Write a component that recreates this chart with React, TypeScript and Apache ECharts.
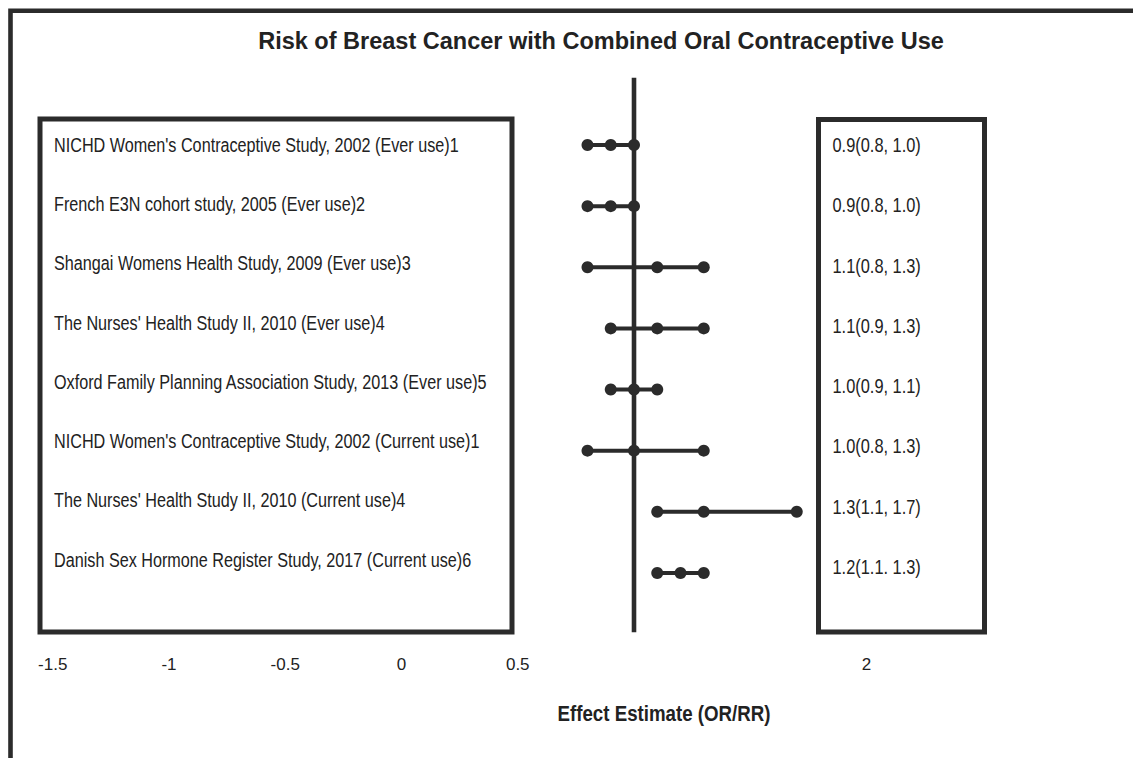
import React, { useEffect, useRef } from "react";
import * as echarts from "echarts";

const titleText = "Risk of Breast Cancer with Combined Oral Contraceptive Use";
const axisTitle = "Effect Estimate (OR/RR)";
const studies = [
  "NICHD Women's Contraceptive Study, 2002 (Ever use)1",
  "French E3N cohort study, 2005 (Ever use)2",
  "Shangai Womens Health Study, 2009 (Ever use)3",
  "The Nurses' Health Study II, 2010 (Ever use)4",
  "Oxford Family Planning Association Study, 2013 (Ever use)5",
  "NICHD Women's Contraceptive Study, 2002 (Current use)1",
  "The Nurses' Health Study II, 2010 (Current use)4",
  "Danish Sex Hormone Register Study, 2017 (Current use)6",
];
const estimates = [0.9, 0.9, 1.1, 1.1, 1.0, 1.0, 1.3, 1.2];
const lowerCI = [0.8, 0.8, 0.8, 0.9, 0.9, 0.8, 1.1, 1.1];
const upperCI = [1.0, 1.0, 1.3, 1.3, 1.1, 1.3, 1.7, 1.3];
const effectLabels = [
  "0.9(0.8, 1.0)",
  "0.9(0.8, 1.0)",
  "1.1(0.8, 1.3)",
  "1.1(0.9, 1.3)",
  "1.0(0.9, 1.1)",
  "1.0(0.8, 1.3)",
  "1.3(1.1, 1.7)",
  "1.2(1.1. 1.3)",
];
const shownTicks = [-1.5, -1, -0.5, 0, 0.5, 2];
const nullEffect = 1;
const refLineRows = [-0.1, 8.97];

const INK = "#2b2b2b";
const TEXT = "#222222";
const SANS = "'Liberation Sans', Arial, sans-serif";

function textColumn(labels: string[], gridIdx: number, scaleX: number) {
  return {
    type: "custom",
    xAxisIndex: gridIdx,
    yAxisIndex: gridIdx,
    silent: true,
    data: labels.map((_, i) => [0, i]),
    renderItem: (params: any, api: any) => {
      const p = api.coord([api.value(0), api.value(1)]);
      return {
        type: "text",
        x: p[0],
        y: p[1],
        scaleX,
        style: {
          text: labels[params.dataIndex],
          fontFamily: SANS,
          fontSize: 20,
          fill: TEXT,
          align: "left",
          verticalAlign: "middle",
        },
      };
    },
  };
}

export default function App() {
  const ref = useRef<HTMLDivElement>(null);
  useEffect(() => {
    if (!ref.current) return;
    const chart = echarts.init(ref.current, null, { renderer: "svg" });
    const forestData: any[] = [];
    studies.forEach((_, i) => {
      forestData.push([lowerCI[i], i + 1], [estimates[i], i + 1], [upperCI[i], i + 1], "-");
    });
    const hiddenCat = (data: string[], gridIndex: number) => ({
      gridIndex,
      type: "category",
      inverse: true,
      data,
      show: false,
    });
    chart.setOption({
      animation: false,
      backgroundColor: "#ffffff",
      graphic: [
        {
          type: "polyline",
          shape: { points: [[10.5, 758], [10.5, 10.8], [1133, 10.8]] },
          style: { stroke: INK, lineWidth: 4.6, fill: "none" },
          z: 10,
        },
        {
          type: "rect",
          shape: { x: 40, y: 119, width: 472, height: 513 },
          style: { stroke: INK, lineWidth: 5, fill: "none" },
          z: 10,
        },
        {
          type: "rect",
          shape: { x: 818.5, y: 119.5, width: 166, height: 512.5 },
          style: { stroke: INK, lineWidth: 5, fill: "none" },
          z: 10,
        },
        {
          type: "text",
          x: 601,
          y: 41,
          style: {
            text: titleText,
            fontFamily: SANS,
            fontWeight: "bold",
            fontSize: 23.5,
            fill: TEXT,
            align: "center",
            verticalAlign: "middle",
          },
        },
        {
          type: "text",
          x: 664,
          y: 713,
          scaleX: 0.85,
          style: {
            text: axisTitle,
            fontFamily: SANS,
            fontWeight: "bold",
            fontSize: 22,
            fill: TEXT,
            align: "center",
            verticalAlign: "middle",
          },
        },
      ],
      grid: [
        { left: 52.75, right: 266.5, top: 114.43, bottom: 154.5 },
        { left: 54, width: 400, top: 115.36, bottom: 168.2 },
        { left: 832.5, width: 140, top: 114.88, bottom: 161.2 },
      ],
      xAxis: [
        {
          gridIndex: 0,
          type: "value",
          min: -1.5,
          max: 2,
          interval: 0.5,
          axisLine: { show: false },
          axisTick: { show: false },
          splitLine: { show: false },
          axisLabel: {
            margin: 52,
            fontFamily: SANS,
            fontSize: 17,
            color: TEXT,
            formatter: (v: number) => (shownTicks.some((t) => Math.abs(t - v) < 1e-9) ? String(v) : ""),
          },
        },
        { gridIndex: 1, type: "value", min: 0, max: 1, show: false },
        { gridIndex: 2, type: "value", min: 0, max: 1, show: false },
      ],
      yAxis: [
        { gridIndex: 0, type: "value", min: 0.5, max: 8.5, inverse: true, show: false },
        hiddenCat(studies, 1),
        hiddenCat(effectLabels, 2),
      ],
      series: [
        {
          type: "line",
          xAxisIndex: 0,
          yAxisIndex: 0,
          data: refLineRows.map((r) => [nullEffect, r]),
          clip: false,
          showSymbol: false,
          symbol: "none",
          lineStyle: { color: INK, width: 4.6 },
          silent: true,
          z: 2,
        },
        {
          type: "line",
          xAxisIndex: 0,
          yAxisIndex: 0,
          data: forestData,
          connectNulls: false,
          showSymbol: true,
          symbol: "circle",
          symbolSize: 12,
          clip: false,
          itemStyle: { color: INK, borderWidth: 0 },
          lineStyle: { color: INK, width: 4 },
          z: 3,
        },
        textColumn(studies, 1, 0.81),
        textColumn(effectLabels, 2, 0.82),
      ],
    });
    return () => chart.dispose();
  }, []);
  return (
    <div
      ref={ref}
      style={{ position: "fixed", left: 0, top: 0, width: 1133, height: 758, background: "#fff" }}
    />
  );
}
